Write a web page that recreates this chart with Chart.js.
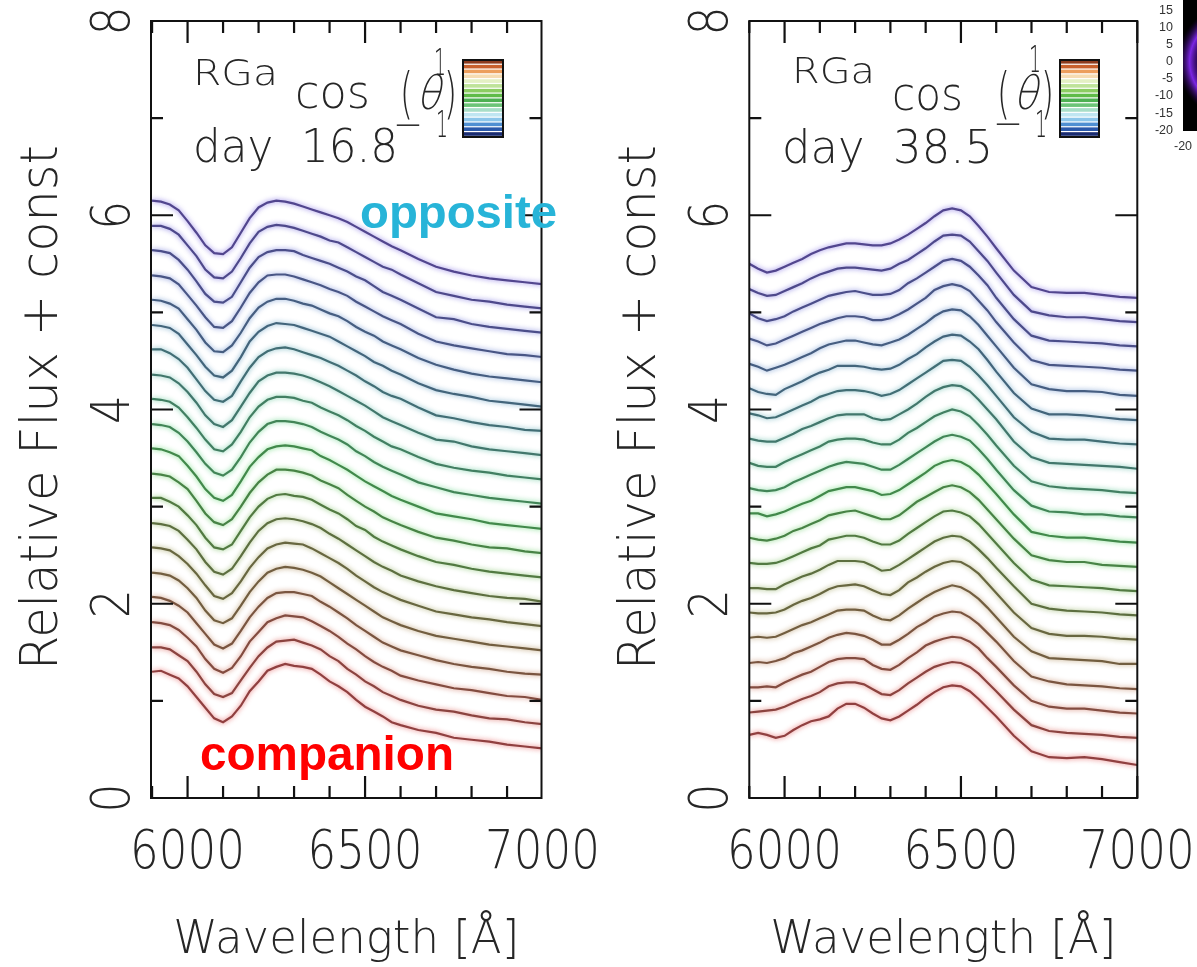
<!DOCTYPE html>
<html>
<head>
<meta charset="utf-8">
<title>RGa spectra</title>
<script src="https://cdn.jsdelivr.net/npm/chart.js@4.4.1/dist/chart.umd.min.js"></script>
<style>
  html, body { margin: 0; padding: 0; background: #fff; }
  body { position: relative; width: 1197px; height: 967px; overflow: hidden; }
  canvas { position: absolute; top: 0; }
</style>
</head>
<body>
<canvas id="panelLeft" width="600" height="967" style="left:0;width:600px;height:967px"></canvas>
<canvas id="panelRight" width="597" height="967" style="left:600px;width:597px;height:967px"></canvas>
<canvas id="inset" width="57" height="155" style="left:1140px;width:57px;height:155px"></canvas>
<script>
// wavelength grid shared by every spectrum (Angstrom)
const wavelengths = [5900, 5925, 5950, 5975, 6000, 6025, 6050, 6075, 6100, 6125, 6150, 6175, 6200, 6225,
  6250, 6275, 6300, 6325, 6350, 6375, 6400, 6425, 6450, 6475, 6500, 6525, 6550, 6575, 6600,
  6650, 6700, 6750, 6800, 6850, 6900, 6950, 7000];

// each spectrum is shifted up by this constant times its row number
const offsetStep = 0.25;

// day 16.8, relative flux before the offset; row 0 = companion side, row 19 = opposite side
const day16Flux = [
  [1.30,1.31,1.27,1.23,1.15,1.04,0.93,0.82,0.78,0.84,0.95,1.10,1.20,1.31,1.35,1.38,1.36,1.35,1.33,1.27,1.20,1.15,1.09,1.01,0.94,0.89,0.84,0.78,0.75,0.70,0.67,0.62,0.60,0.58,0.55,0.53,0.51],
  [1.30,1.30,1.28,1.22,1.16,1.05,0.92,0.82,0.79,0.83,0.96,1.09,1.21,1.30,1.36,1.37,1.38,1.35,1.32,1.28,1.21,1.16,1.08,1.02,0.95,0.90,0.84,0.80,0.76,0.70,0.66,0.64,0.60,0.57,0.56,0.53,0.51],
  [1.31,1.30,1.28,1.23,1.15,1.06,0.93,0.83,0.79,0.84,0.96,1.11,1.21,1.31,1.35,1.38,1.37,1.36,1.32,1.27,1.22,1.16,1.09,1.03,0.96,0.90,0.85,0.81,0.76,0.71,0.67,0.63,0.61,0.58,0.55,0.54,0.51],
  [1.32,1.31,1.28,1.23,1.16,1.05,0.94,0.83,0.79,0.84,0.97,1.11,1.22,1.31,1.36,1.37,1.37,1.35,1.33,1.27,1.22,1.16,1.10,1.03,0.97,0.91,0.85,0.81,0.77,0.72,0.67,0.63,0.60,0.58,0.55,0.53,0.52],
  [1.32,1.31,1.29,1.24,1.16,1.06,0.93,0.83,0.80,0.85,0.98,1.12,1.23,1.32,1.36,1.38,1.37,1.35,1.32,1.28,1.22,1.16,1.10,1.04,0.98,0.92,0.86,0.82,0.78,0.72,0.67,0.64,0.61,0.58,0.56,0.54,0.52],
  [1.33,1.32,1.30,1.24,1.16,1.06,0.94,0.83,0.80,0.86,0.98,1.12,1.23,1.32,1.36,1.38,1.37,1.36,1.32,1.27,1.22,1.17,1.11,1.04,0.98,0.92,0.87,0.83,0.79,0.73,0.67,0.64,0.61,0.59,0.56,0.54,0.52],
  [1.33,1.32,1.30,1.25,1.16,1.06,0.93,0.83,0.80,0.86,0.99,1.13,1.25,1.33,1.37,1.38,1.37,1.35,1.32,1.28,1.22,1.17,1.11,1.05,0.99,0.93,0.88,0.84,0.79,0.73,0.68,0.64,0.61,0.58,0.56,0.55,0.52],
  [1.34,1.34,1.30,1.25,1.16,1.06,0.93,0.83,0.81,0.86,1.00,1.14,1.25,1.33,1.37,1.38,1.36,1.35,1.32,1.27,1.22,1.18,1.12,1.05,1.01,0.94,0.89,0.85,0.81,0.74,0.68,0.65,0.61,0.58,0.56,0.54,0.52],
  [1.34,1.33,1.31,1.25,1.18,1.06,0.93,0.84,0.81,0.87,1.00,1.14,1.25,1.33,1.38,1.38,1.37,1.35,1.32,1.27,1.23,1.19,1.12,1.06,1.00,0.95,0.89,0.85,0.81,0.74,0.68,0.65,0.61,0.58,0.57,0.54,0.52],
  [1.35,1.34,1.31,1.27,1.17,1.06,0.93,0.84,0.81,0.87,1.01,1.16,1.26,1.34,1.37,1.38,1.37,1.35,1.33,1.27,1.23,1.18,1.13,1.07,1.01,0.96,0.91,0.86,0.82,0.75,0.68,0.65,0.62,0.58,0.56,0.54,0.52],
  [1.35,1.34,1.32,1.26,1.17,1.06,0.94,0.85,0.82,0.88,1.01,1.16,1.27,1.35,1.38,1.38,1.37,1.35,1.32,1.27,1.23,1.19,1.14,1.07,1.02,0.96,0.91,0.87,0.83,0.75,0.70,0.65,0.62,0.59,0.57,0.55,0.53],
  [1.36,1.35,1.33,1.27,1.17,1.06,0.94,0.84,0.82,0.89,1.02,1.17,1.28,1.35,1.38,1.38,1.37,1.34,1.32,1.27,1.23,1.19,1.14,1.08,1.03,0.97,0.92,0.87,0.84,0.76,0.69,0.65,0.62,0.60,0.57,0.55,0.53],
  [1.36,1.35,1.33,1.27,1.18,1.07,0.94,0.85,0.82,0.89,1.03,1.17,1.29,1.35,1.38,1.38,1.37,1.35,1.32,1.28,1.24,1.19,1.14,1.09,1.04,0.98,0.92,0.88,0.84,0.76,0.69,0.67,0.62,0.59,0.57,0.55,0.53],
  [1.37,1.37,1.33,1.27,1.18,1.06,0.94,0.85,0.83,0.89,1.04,1.18,1.29,1.35,1.38,1.39,1.37,1.34,1.31,1.28,1.24,1.20,1.15,1.10,1.04,0.99,0.93,0.89,0.86,0.77,0.69,0.66,0.62,0.59,0.57,0.54,0.53],
  [1.37,1.36,1.34,1.28,1.17,1.06,0.94,0.85,0.83,0.90,1.04,1.20,1.30,1.36,1.39,1.38,1.37,1.34,1.31,1.28,1.25,1.20,1.15,1.10,1.05,0.99,0.95,0.90,0.86,0.77,0.70,0.66,0.63,0.59,0.57,0.55,0.53],
  [1.38,1.37,1.34,1.29,1.18,1.07,0.94,0.85,0.84,0.91,1.04,1.19,1.30,1.36,1.39,1.39,1.37,1.34,1.32,1.28,1.24,1.21,1.16,1.10,1.05,1.01,0.95,0.91,0.87,0.78,0.71,0.66,0.62,0.59,0.57,0.55,0.53],
  [1.38,1.37,1.35,1.29,1.18,1.07,0.95,0.85,0.84,0.91,1.05,1.20,1.31,1.38,1.39,1.39,1.37,1.34,1.31,1.28,1.24,1.21,1.17,1.11,1.06,1.01,0.96,0.92,0.88,0.78,0.70,0.66,0.63,0.60,0.57,0.56,0.54],
  [1.39,1.38,1.36,1.29,1.19,1.07,0.94,0.86,0.85,0.91,1.06,1.21,1.32,1.37,1.39,1.39,1.38,1.34,1.31,1.28,1.25,1.21,1.17,1.12,1.08,1.02,0.96,0.92,0.88,0.79,0.70,0.68,0.63,0.60,0.58,0.56,0.54],
  [1.39,1.39,1.36,1.30,1.19,1.08,0.94,0.86,0.85,0.92,1.06,1.21,1.33,1.38,1.40,1.39,1.37,1.34,1.31,1.28,1.24,1.22,1.17,1.12,1.07,1.02,0.97,0.94,0.89,0.80,0.71,0.67,0.63,0.61,0.58,0.56,0.54],
  [1.40,1.39,1.36,1.30,1.19,1.07,0.94,0.86,0.85,0.92,1.07,1.22,1.33,1.38,1.40,1.39,1.37,1.34,1.31,1.28,1.25,1.22,1.18,1.13,1.08,1.03,0.98,0.93,0.89,0.80,0.72,0.67,0.63,0.60,0.58,0.56,0.54]
];

// day 38.5, same ordering
const day38Flux = [
  [0.65,0.67,0.65,0.62,0.64,0.70,0.75,0.79,0.81,0.84,0.92,0.97,0.97,0.93,0.87,0.82,0.80,0.84,0.90,0.96,1.03,1.09,1.14,1.16,1.15,1.10,1.02,0.93,0.84,0.64,0.48,0.42,0.41,0.42,0.40,0.37,0.34],
  [0.63,0.64,0.65,0.66,0.69,0.73,0.77,0.80,0.84,0.90,0.93,0.94,0.94,0.92,0.87,0.82,0.81,0.86,0.93,0.99,1.05,1.10,1.13,1.15,1.14,1.10,1.03,0.94,0.85,0.66,0.50,0.44,0.42,0.41,0.40,0.38,0.37],
  [0.64,0.64,0.65,0.64,0.69,0.73,0.77,0.80,0.85,0.90,0.93,0.94,0.94,0.93,0.87,0.83,0.82,0.87,0.94,1.00,1.07,1.11,1.14,1.16,1.15,1.11,1.04,0.94,0.85,0.66,0.50,0.44,0.42,0.42,0.40,0.38,0.37],
  [0.64,0.65,0.64,0.66,0.69,0.74,0.77,0.81,0.85,0.90,0.93,0.95,0.94,0.92,0.88,0.83,0.83,0.88,0.94,1.01,1.06,1.12,1.15,1.17,1.16,1.11,1.04,0.95,0.86,0.66,0.50,0.45,0.42,0.41,0.40,0.38,0.37],
  [0.65,0.66,0.65,0.66,0.70,0.74,0.78,0.81,0.85,0.89,0.93,0.94,0.94,0.93,0.88,0.84,0.83,0.88,0.95,1.01,1.07,1.12,1.16,1.19,1.17,1.12,1.05,0.96,0.86,0.66,0.51,0.44,0.43,0.42,0.41,0.38,0.38],
  [0.66,0.65,0.65,0.66,0.69,0.74,0.78,0.81,0.85,0.90,0.93,0.94,0.95,0.93,0.89,0.85,0.84,0.89,0.97,1.02,1.08,1.13,1.17,1.19,1.18,1.13,1.06,0.96,0.86,0.66,0.50,0.44,0.42,0.42,0.41,0.39,0.38],
  [0.66,0.66,0.65,0.65,0.70,0.74,0.78,0.81,0.85,0.90,0.94,0.94,0.94,0.93,0.89,0.84,0.85,0.90,0.96,1.02,1.08,1.14,1.18,1.20,1.19,1.14,1.06,0.97,0.87,0.68,0.50,0.45,0.43,0.42,0.41,0.39,0.38],
  [0.67,0.66,0.66,0.67,0.70,0.74,0.78,0.82,0.85,0.91,0.93,0.95,0.95,0.93,0.89,0.86,0.86,0.90,0.97,1.03,1.09,1.15,1.20,1.21,1.19,1.15,1.07,0.97,0.87,0.67,0.50,0.44,0.43,0.42,0.41,0.39,0.38],
  [0.68,0.66,0.65,0.67,0.70,0.75,0.78,0.82,0.86,0.91,0.93,0.95,0.96,0.93,0.90,0.87,0.87,0.91,0.98,1.05,1.10,1.15,1.20,1.22,1.20,1.15,1.07,0.97,0.87,0.67,0.50,0.45,0.43,0.43,0.40,0.39,0.38],
  [0.68,0.68,0.65,0.67,0.70,0.74,0.78,0.81,0.86,0.91,0.93,0.95,0.95,0.93,0.91,0.87,0.88,0.92,0.98,1.04,1.10,1.17,1.21,1.23,1.21,1.16,1.08,0.98,0.88,0.67,0.49,0.45,0.43,0.43,0.41,0.39,0.38],
  [0.69,0.67,0.66,0.67,0.70,0.75,0.79,0.83,0.87,0.91,0.94,0.96,0.95,0.94,0.91,0.88,0.88,0.93,0.99,1.05,1.11,1.17,1.22,1.24,1.22,1.18,1.09,0.99,0.88,0.67,0.51,0.45,0.44,0.42,0.42,0.40,0.39],
  [0.70,0.67,0.66,0.66,0.71,0.75,0.79,0.83,0.87,0.92,0.94,0.95,0.95,0.94,0.91,0.89,0.89,0.94,1.01,1.06,1.12,1.18,1.22,1.25,1.23,1.18,1.09,0.99,0.88,0.67,0.51,0.46,0.44,0.43,0.42,0.40,0.39],
  [0.70,0.68,0.67,0.67,0.71,0.75,0.80,0.83,0.87,0.91,0.94,0.95,0.95,0.95,0.91,0.89,0.90,0.95,1.00,1.06,1.13,1.19,1.23,1.25,1.24,1.19,1.10,1.00,0.90,0.67,0.51,0.45,0.44,0.43,0.42,0.41,0.39],
  [0.71,0.69,0.66,0.67,0.71,0.75,0.79,0.83,0.88,0.91,0.94,0.95,0.95,0.94,0.92,0.89,0.91,0.95,1.01,1.07,1.13,1.19,1.25,1.26,1.25,1.19,1.10,1.00,0.89,0.67,0.52,0.45,0.44,0.44,0.42,0.40,0.39],
  [0.72,0.68,0.66,0.65,0.71,0.75,0.79,0.84,0.88,0.91,0.95,0.95,0.95,0.94,0.92,0.91,0.92,0.96,1.02,1.07,1.14,1.20,1.25,1.27,1.26,1.20,1.12,1.01,0.89,0.67,0.51,0.45,0.45,0.44,0.42,0.40,0.39],
  [0.72,0.69,0.65,0.68,0.71,0.75,0.79,0.83,0.88,0.92,0.94,0.96,0.96,0.94,0.92,0.91,0.94,0.97,1.02,1.08,1.14,1.21,1.26,1.28,1.27,1.21,1.12,1.01,0.90,0.68,0.51,0.46,0.44,0.44,0.43,0.40,0.39],
  [0.73,0.70,0.66,0.68,0.72,0.76,0.80,0.84,0.88,0.91,0.94,0.96,0.96,0.95,0.92,0.92,0.94,0.98,1.03,1.09,1.15,1.23,1.27,1.29,1.27,1.22,1.12,1.02,0.90,0.69,0.51,0.46,0.45,0.44,0.43,0.41,0.40],
  [0.74,0.69,0.66,0.68,0.71,0.76,0.80,0.84,0.88,0.92,0.94,0.96,0.97,0.95,0.93,0.93,0.94,0.98,1.05,1.10,1.16,1.22,1.28,1.30,1.28,1.22,1.13,1.03,0.90,0.68,0.51,0.46,0.45,0.44,0.43,0.41,0.40],
  [0.74,0.70,0.67,0.68,0.72,0.76,0.80,0.85,0.89,0.92,0.95,0.96,0.96,0.95,0.94,0.93,0.95,1.00,1.04,1.10,1.16,1.23,1.29,1.30,1.29,1.23,1.13,1.03,0.91,0.68,0.51,0.47,0.45,0.45,0.43,0.41,0.40],
  [0.75,0.70,0.66,0.68,0.72,0.76,0.80,0.85,0.89,0.92,0.94,0.96,0.96,0.95,0.94,0.94,0.96,1.00,1.05,1.11,1.17,1.24,1.30,1.32,1.30,1.24,1.14,1.03,0.91,0.68,0.51,0.46,0.45,0.45,0.43,0.41,0.40]
];

const yTickLabels = [0, 2, 4, 6, 8];
const xTickLabels = [6000, 6500, 7000];
const insetYTickLabels = [15, 10, 5, 0, -5, -10, -15, -20];
const insetXTickLabels = [-20];

// glow colour of each spectrum, companion (red) up to opposite (blue)
const lineGlow = [
  [226, 80, 80], [216, 88, 80], [202, 102, 80], [186, 118, 80], [170, 134, 80],
  [152, 150, 80], [132, 166, 80], [112, 186, 84], [94, 202, 90], [84, 212, 100],
  [84, 206, 122], [84, 194, 142], [84, 180, 160], [84, 164, 176], [86, 148, 188],
  [90, 134, 198], [96, 120, 206], [100, 106, 212], [106, 96, 216], [112, 90, 222]
];
// stripes of the little cos(theta) colour key, top (+1) to bottom (-1)
const keyColors = ['#8c3a1c', '#c8602c', '#ec9e5c', '#f6dcb2', '#e4f0c4', '#bfe39a', '#8ccd62', '#5fbb48',
  '#4db052', '#6cc478', '#a8dec8', '#c0e6f2', '#8cc6ea', '#4f8fd2', '#2a58aa', '#1a2c72'];

const INK = '#262626';
const THIN = "200 {s}px 'DejaVu Sans', 'Liberation Sans', sans-serif";
const font = s => THIN.replace('{s}', s);

// draws text squeezed/stretched to an exact width
function fitText(ctx, str, x, y, width, f, opt = {}) {
  ctx.save();
  ctx.font = f;
  const w = ctx.measureText(str).width;
  ctx.translate(x, y);
  if (opt.rotate) ctx.rotate(opt.rotate);
  if (opt.slant) ctx.transform(1, 0, -opt.slant, 1, 0, 0);
  ctx.scale(width / w, 1);
  ctx.textAlign = opt.align || 'left';
  ctx.textBaseline = opt.baseline || 'alphabetic';
  ctx.fillStyle = opt.color || INK;
  ctx.fillText(str, 0, 0);
  ctx.restore();
}

const lineGlowPlugin = {
  id: 'lineGlow',
  beforeDatasetDraw(chart, args) {
    const ds = chart.data.datasets[args.index];
    if (!ds.glow) return;
    chart.ctx.save();
    chart.ctx.shadowColor = ds.glow;
    chart.ctx.shadowBlur = 5;
  },
  afterDatasetDraw(chart, args) {
    if (chart.data.datasets[args.index].glow) chart.ctx.restore();
  }
};

const frameAndText = {
  id: 'frameAndText',
  afterDraw(chart, args, o) {
    const { ctx, chartArea: a, scales: { x, y } } = chart;
    ctx.save();
    ctx.strokeStyle = '#111';
    ctx.lineWidth = 2;
    ctx.strokeRect(a.left, a.top, a.right - a.left, a.bottom - a.top);

    // inward ticks on all four sides
    ctx.lineWidth = 2.2;
    ctx.beginPath();
    for (let w = Math.ceil(x.min / 100) * 100; w <= x.max; w += 100) {
      const px = x.getPixelForValue(w);
      const len = w % 500 === 0 ? 22 : 12;
      ctx.moveTo(px, a.bottom); ctx.lineTo(px, a.bottom - len);
      ctx.moveTo(px, a.top); ctx.lineTo(px, a.top + len);
    }
    for (let v = y.min + 1; v < y.max; v += 1) {
      const py = y.getPixelForValue(v);
      const len = v % 2 === 0 ? 22 : 12;
      ctx.moveTo(a.left, py); ctx.lineTo(a.left + len, py);
      ctx.moveTo(a.right, py); ctx.lineTo(a.right - len, py);
    }
    ctx.stroke();

    // tick labels
    xTickLabels.forEach(v => {
      fitText(ctx, String(v), x.getPixelForValue(v), 868, 115, font(54), { align: 'center' });
    });
    yTickLabels.forEach(v => {
      fitText(ctx, String(v), a.left - 41 + 19, y.getPixelForValue(v), 29, font(54),
        { align: 'center', rotate: -Math.PI / 2 });
    });

    // axis titles
    const cx = (a.left + a.right) / 2;
    fitText(ctx, 'Wavelength [Å]', cx, 953, 346, font(46), { align: 'center' });
    fitText(ctx, 'Relative Flux + const', a.left - 94, (a.top + a.bottom) / 2 - 2, 525, font(52),
      { align: 'center', rotate: -Math.PI / 2 });

    // object name, epoch and the cos(theta) key
    const L = o.labels;
    fitText(ctx, 'RGa', L.rga[0], L.rga[1], L.rga[2], font(36));
    fitText(ctx, 'cos', L.cos[0], L.cos[1], L.cos[2], font(46));
    fitText(ctx, '(', L.theta[0], L.theta[1], 13, font(56));
    fitText(ctx, 'θ', L.theta[0] + 16, L.theta[1] - 3, 24, font(46), { slant: 0.25 });
    fitText(ctx, ')', L.theta[0] + 44, L.theta[1], 13, font(56));
    fitText(ctx, '1', L.one[0], L.one[1], 12, font(38), { align: 'center' });
    fitText(ctx, '−', L.minus[0], L.minus[1], 30, font(38), { align: 'center' });
    fitText(ctx, '1', L.minusOne[0], L.minusOne[1], 12, font(38), { align: 'center' });
    fitText(ctx, o.day, L.day[0], L.day[1], L.day[2], font(46));

    const [kx, ky, kw, kh] = L.key;
    const sh = kh / keyColors.length;
    ctx.fillStyle = '#fff';
    ctx.fillRect(kx, ky, kw, kh);
    keyColors.forEach((c, i) => {
      ctx.fillStyle = c;
      ctx.fillRect(kx, ky + i * sh, kw, sh - 1.2);
    });
    ctx.lineWidth = 2;
    ctx.strokeStyle = '#111';
    ctx.strokeRect(kx, ky, kw, kh);

    (o.notes || []).forEach(n => {
      fitText(ctx, n.text, n.x, n.y, n.w, `bold ${n.size}px 'Liberation Sans', Arial, sans-serif`, { color: n.color });
    });
    ctx.restore();
  }
};

function buildDatasets(rows) {
  return rows.map((row, i) => {
    const [r, g, b] = lineGlow[i];
    const core = `rgb(${Math.round(r * 0.55 + 20)},${Math.round(g * 0.55 + 20)},${Math.round(b * 0.55 + 20)})`;
    return {
      data: row.map((f, k) => ({ x: wavelengths[k], y: f + i * offsetStep })),
      borderColor: core,
      glow: `rgba(${r},${g},${b},0.85)`,
      borderWidth: 2.2,
      pointRadius: 0,
      tension: 0
    };
  });
}

function makePanel(id, rows, xMin, xMax, padding, decor) {
  return new Chart(document.getElementById(id), {
    type: 'line',
    data: { datasets: buildDatasets(rows) },
    options: {
      responsive: false,
      animation: false,
      events: [],
      layout: { padding },
      plugins: { legend: { display: false }, tooltip: { enabled: false }, frameAndText: decor },
      scales: {
        x: { type: 'linear', min: xMin, max: xMax, display: false },
        y: { type: 'linear', min: 0, max: 8, display: false }
      }
    },
    plugins: [lineGlowPlugin, frameAndText]
  });
}

makePanel('panelLeft', day16Flux, 5897, 6997, { left: 151, right: 58.5, top: 21, bottom: 169 }, {
  day: 'day  16.8',
  labels: {
    rga: [193, 85, 85], cos: [295, 108, 75], theta: [400, 112], one: [440, 75],
    minus: [408, 137], minusOne: [442, 137], day: [193, 162, 205], key: [463, 60, 40, 77]
  },
  notes: [
    { text: 'opposite', x: 360, y: 228, w: 197, size: 46, color: '#27b4d8' },
    { text: 'companion', x: 200, y: 770, w: 254, size: 48, color: '#ff0000' }
  ]
});

makePanel('panelRight', day38Flux, 5900, 7000, { left: 149.3, right: 59.7, top: 21, bottom: 169 }, {
  day: 'day  38.5',
  labels: {
    rga: [192, 83, 83], cos: [292, 110, 71], theta: [397, 112], one: [435, 72],
    minus: [408, 136], minusOne: [441, 137], day: [182, 163, 211], key: [460, 60, 39, 77]
  }
});

// corner of the neighbouring image panel
const insetDecor = {
  id: 'insetDecor',
  beforeDatasetsDraw(chart) {
    const { ctx, chartArea: a, scales: { x, y } } = chart;
    ctx.save();
    ctx.fillStyle = '#000';
    ctx.fillRect(a.left, a.top, a.right - a.left, a.bottom - a.top);
    const cx = x.getPixelForValue(-20) + 52, cy = y.getPixelForValue(0);
    const g = ctx.createRadialGradient(cx, cy, 30, cx, cy, 58);
    g.addColorStop(0, 'rgba(60,0,120,0)');
    g.addColorStop(0.55, 'rgba(130,40,240,0.95)');
    g.addColorStop(1, 'rgba(40,0,80,0)');
    ctx.beginPath();
    ctx.rect(a.left, a.top, a.right - a.left, a.bottom - a.top);
    ctx.clip();
    ctx.fillStyle = g;
    ctx.fillRect(a.left, a.top, a.right - a.left, a.bottom - a.top);
    ctx.restore();
  },
  afterDraw(chart) {
    const { ctx, chartArea: a, scales: { x, y } } = chart;
    ctx.save();
    ctx.fillStyle = '#333';
    ctx.font = "12.5px 'Liberation Sans', Arial, sans-serif";
    ctx.textAlign = 'right';
    ctx.textBaseline = 'middle';
    insetYTickLabels.forEach(v => ctx.fillText(String(v), a.left - 10, y.getPixelForValue(v)));
    ctx.textAlign = 'center';
    insetXTickLabels.forEach(v => ctx.fillText(String(v), x.getPixelForValue(v), 147));
    ctx.restore();
  }
};

new Chart(document.getElementById('inset'), {
  type: 'scatter',
  data: { datasets: [{ data: [] }] },
  options: {
    responsive: false,
    animation: false,
    events: [],
    layout: { padding: { left: 43, right: 0, top: 0, bottom: 24 } },
    plugins: { legend: { display: false }, tooltip: { enabled: false } },
    scales: {
      x: { type: 'linear', min: -20, max: -16, display: false },
      y: { type: 'linear', min: -20.2, max: 18, display: false }
    }
  },
  plugins: [insetDecor]
});
</script>
</body>
</html>
